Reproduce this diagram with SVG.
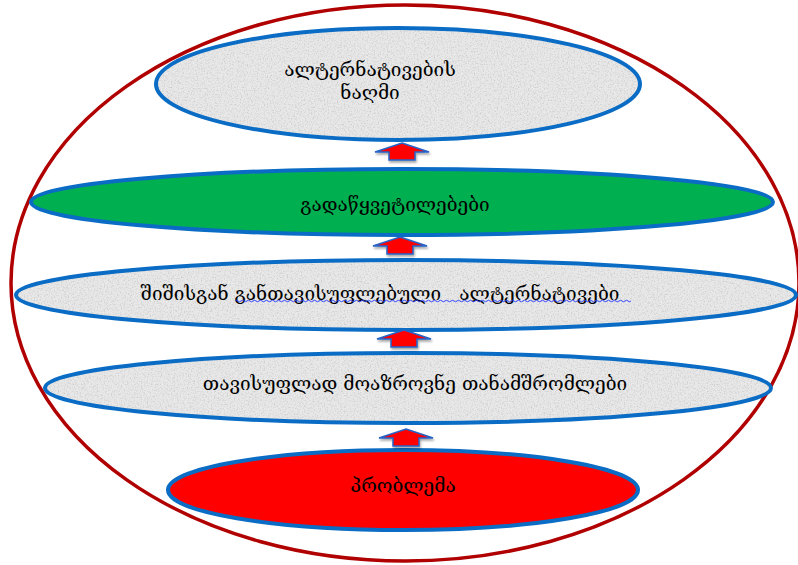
<svg xmlns="http://www.w3.org/2000/svg" width="798" height="565" viewBox="0 0 798 565">
<style>
  .stone { fill: none; stroke: #0A6CC4; stroke-width: 4; }
  .ring { fill: none; stroke: #B00000; stroke-width: 3.5; }
  .lbl { font-family: "DejaVu Serif", "DejaVu Sans", serif; font-size: 19px; fill: #000; text-anchor: middle; }
  .arr { fill: #FF0000; stroke: #2563C8; stroke-width: 1.5; stroke-linejoin: miter; }
</style>
<defs>
  <filter id="grain" x="0" y="0" width="100%" height="100%">
    <feTurbulence type="fractalNoise" baseFrequency="0.7" numOctaves="3" seed="4" result="n"/>
    <feColorMatrix in="n" type="matrix" values="0 0 0 0 0.6  0 0 0 0 0.6  0 0 0 0 0.6  2.6 0 0 0 -1.2" result="g"/>
    <feComposite in="g" in2="SourceGraphic" operator="in" result="gm"/>
    <feMerge><feMergeNode in="SourceGraphic"/><feMergeNode in="gm"/></feMerge>
  </filter>
  <filter id="shadow" x="-30%" y="-30%" width="160%" height="180%">
    <feDropShadow dx="1" dy="2" stdDeviation="1.2" flood-color="#000" flood-opacity="0.35"/>
  </filter>
  <path id="up" class="arr" d="M0,0 L27,9 L13,9 L13,17 L-13,17 L-13,9 L-27,9 Z"/>
</defs>
<rect width="798" height="565" fill="#FFFFFF"/>

<g id="frame">
  <ellipse class="ring" cx="405" cy="283" rx="394" ry="278"/>
</g>

<g id="node-alternatives-mine">
  <ellipse cx="398" cy="84" rx="242" ry="56" fill="#E8E8E8" filter="url(#grain)"/>
  <ellipse class="stone" cx="398" cy="84" rx="242" ry="56"/>
  <text class="lbl" x="370" y="76">ალტერნატივების</text>
  <text class="lbl" x="370" y="99">ნაღმი</text>
</g>

<g id="node-solutions">
  <ellipse cx="402" cy="202" rx="371" ry="33" fill="#00B050" stroke="#0A6CC4" stroke-width="4"/>
  <text class="lbl" x="395" y="211">გადაწყვეტილებები</text>
</g>

<g id="node-fear-free">
  <ellipse cx="406" cy="295" rx="390" ry="35" fill="#E8E8E8" filter="url(#grain)"/>
  <ellipse class="stone" cx="406" cy="295" rx="390" ry="35"/>
  <text class="lbl" x="380" y="300" xml:space="preserve">შიშისგან განთავისუფლებული   ალტერნატივები</text>
  <path d="M235,301 q1.5,-1.5 3,0 t3,0 t3,0 t3,0 t3,0 t3,0 t3,0 t3,0 t3,0 t3,0 t3,0 t3,0 t3,0 t3,0 t3,0 t3,0 t3,0 t3,0 t3,0 t3,0 t3,0 t3,0 t3,0 t3,0 t3,0 t3,0 t3,0 t3,0 t3,0 t3,0 t3,0 t3,0 t3,0 t3,0 t3,0 t3,0 t3,0 t3,0 t3,0 t3,0 t3,0 t3,0 t3,0 t3,0 t3,0 t3,0 t3,0 t3,0 t3,0 t3,0 t3,0 t3,0 t3,0 t3,0 t3,0 t3,0 t3,0 t3,0 t3,0 t3,0 t3,0 t3,0 t3,0 t3,0 t3,0 t3,0 t3,0 t3,0 t3,0 t3,0 t3,0 t3,0 t3,0 t3,0 t3,0 t3,0 t3,0 t3,0 t3,0 t3,0 t3,0 t3,0 t3,0 t3,0 t3,0 t3,0 t3,0 t3,0 t3,0 t3,0 t3,0 t3,0 t3,0 t3,0 t3,0 t3,0 t3,0 t3,0 t3,0 t3,0 t3,0 t3,0 t3,0 t3,0 t3,0 t3,0 t3,0 t3,0 t3,0 t3,0 t3,0 t3,0 t3,0 t3,0 t3,0 t3,0 t3,0 t3,0 t3,0 t3,0 t3,0 t3,0 t3,0 t3,0 t3,0 t3,0 t3,0 t3,0 t3,0 t3,0 t3,0 t3,0" fill="none" stroke="#3344FF" stroke-width="1"/>
</g>

<g id="node-free-thinkers">
  <ellipse cx="408" cy="388" rx="363" ry="35" fill="#E8E8E8" filter="url(#grain)"/>
  <ellipse class="stone" cx="408" cy="388" rx="363" ry="35"/>
  <text class="lbl" x="415" y="390">თავისუფლად მოაზროვნე თანამშრომლები</text>
</g>

<g id="node-problem">
  <ellipse cx="403" cy="490" rx="235" ry="40" fill="#FF0000" stroke="#0A6CC4" stroke-width="4"/>
  <text class="lbl" x="403" y="492">პრობლემა</text>
</g>

<g id="connectors" filter="url(#shadow)">
  <use href="#up" x="402" y="143"/>
  <use href="#up" x="400" y="237"/>
  <use href="#up" x="404" y="330"/>
  <use href="#up" x="406" y="429"/>
</g>
</svg>
